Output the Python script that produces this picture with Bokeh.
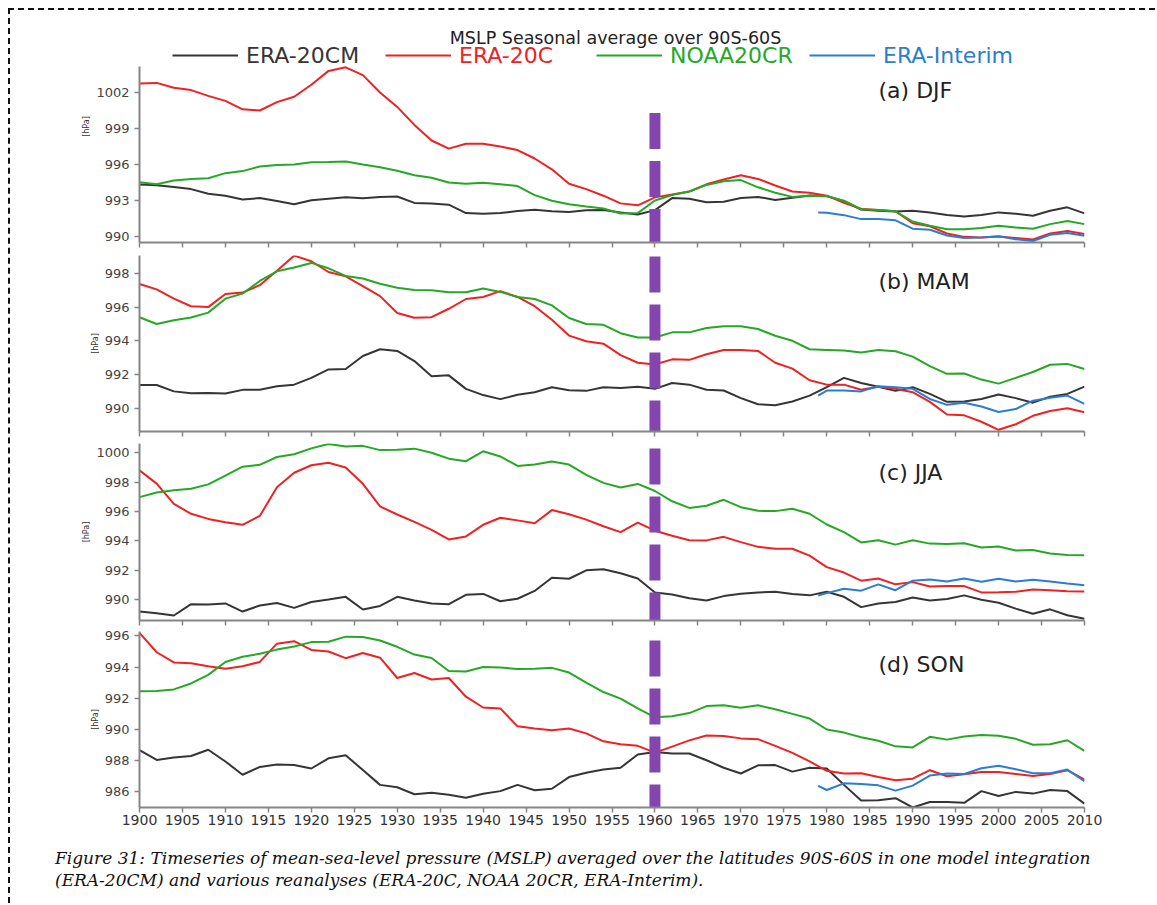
from bokeh.plotting import figure
from bokeh.layouts import column
from bokeh.models import Range1d, Legend, LegendItem, Label, FixedTicker, Div
from bokeh.embed import file_html
from bokeh.resources import INLINE

# ---------------------------------------------------------------------------
# Data: seasonal-mean MSLP (hPa) averaged over 90S-60S
# ---------------------------------------------------------------------------
YEARS = list(range(1900, 2011, 2))
INTERIM_YEARS = [1979] + list(range(1980, 2011, 2))
YEAR_TICKS = list(range(1900, 2011, 5))
SPLIT_YEAR = 1960

DJF_ERA20CM = [994.33, 994.28, 994.12, 993.95, 993.56, 993.4, 993.08, 993.2, 992.95, 992.68,
               993.02, 993.15, 993.27, 993.18, 993.3, 993.33, 992.8, 992.76, 992.65, 991.95,
               991.9, 991.95, 992.12, 992.22, 992.1, 992.05, 992.18, 992.2, 992.0, 991.83,
               992.2, 993.2, 993.15, 992.85, 992.9, 993.2, 993.3, 993.05, 993.22, 993.42,
               993.38, 992.95, 992.25, 992.15, 992.09, 992.15, 992.0, 991.79, 991.67, 991.8,
               992.01, 991.9, 991.73, 992.15, 992.43, 991.93]
DJF_ERA20C = [1002.75, 1002.8, 1002.4, 1002.2, 1001.72, 1001.3, 1000.6, 1000.5, 1001.2, 1001.65,
              1002.65, 1003.8, 1004.1, 1003.45, 1002.0, 1000.8, 999.3, 998.0, 997.32, 997.73,
              997.72, 997.5, 997.2, 996.5, 995.6, 994.4, 993.95, 993.4, 992.76, 992.6,
              993.26, 993.5, 993.75, 994.35, 994.75, 995.1, 994.8, 994.25, 993.75, 993.65,
              993.4, 992.8, 992.3, 992.2, 992.1, 991.1, 990.85, 990.25, 989.97, 989.92,
              990.0, 989.88, 989.75, 990.25, 990.45, 990.2]
DJF_NOAA20CR = [994.52, 994.35, 994.66, 994.8, 994.85, 995.28, 995.45, 995.83, 995.95, 996.0,
                996.18, 996.2, 996.25, 996.0, 995.77, 995.48, 995.1, 994.9, 994.5, 994.4,
                994.47, 994.36, 994.2, 993.45, 992.98, 992.68, 992.5, 992.33, 991.92, 991.95,
                993.0, 993.45, 993.75, 994.3, 994.61, 994.7, 994.1, 993.65, 993.3, 993.4,
                993.35, 992.98, 992.28, 992.2, 992.1, 991.25, 990.9, 990.6, 990.61, 990.7,
                990.9, 990.75, 990.65, 991.03, 991.3, 991.03]
DJF_INTERIM = [992.01, 991.97, 991.78, 991.45, 991.45, 991.35, 990.65, 990.56, 990.08,
               989.88, 989.92, 990.02, 989.78, 989.62, 990.15, 990.3, 990.06]

MAM_ERA20CM = [991.38, 991.38, 991.0, 990.89, 990.9, 990.88, 991.09, 991.1, 991.3, 991.4,
               991.8, 992.3, 992.33, 993.1, 993.5, 993.4, 992.8, 991.9, 991.95, 991.15,
               990.78, 990.54, 990.8, 990.95, 991.24, 991.07, 991.03, 991.25, 991.2, 991.28,
               991.15, 991.5, 991.4, 991.1, 991.05, 990.6, 990.24, 990.18, 990.4, 990.75,
               991.25, 991.8, 991.5, 991.27, 991.03, 991.25, 990.85, 990.38, 990.4, 990.55,
               990.82, 990.6, 990.33, 990.68, 990.85, 991.28]
MAM_ERA20C = [997.37, 997.05, 996.5, 996.05, 996.0, 996.78, 996.86, 997.3, 998.16, 999.05,
              998.72, 998.08, 997.82, 997.25, 996.65, 995.65, 995.37, 995.4, 995.9, 996.48,
              996.6, 996.95, 996.6, 996.05, 995.25, 994.31, 993.97, 993.83, 993.15, 992.7,
              992.59, 992.9, 992.87, 993.2, 993.46, 993.46, 993.4, 992.7, 992.35, 991.66,
              991.4, 991.4, 991.1, 991.27, 991.15, 990.95, 990.38, 989.63, 989.58, 989.2,
              988.72, 989.05, 989.55, 989.84, 990.0, 989.76]
MAM_NOAA20CR = [995.4, 995.0, 995.22, 995.38, 995.67, 996.5, 996.8, 997.55, 998.12, 998.35,
                998.62, 998.3, 997.85, 997.7, 997.38, 997.15, 997.02, 997.0, 996.88, 996.88,
                997.1, 996.9, 996.6, 996.48, 996.1, 995.35, 995.0, 994.95, 994.45, 994.2,
                994.2, 994.5, 994.5, 994.76, 994.86, 994.86, 994.7, 994.3, 994.0, 993.5,
                993.46, 993.42, 993.3, 993.45, 993.38, 993.06, 992.5, 992.04, 992.06, 991.7,
                991.46, 991.8, 992.15, 992.58, 992.63, 992.33]
MAM_INTERIM = [990.75, 991.05, 991.05, 991.0, 991.3, 991.25, 991.15, 990.55, 990.2,
               990.32, 990.1, 989.78, 989.95, 990.45, 990.62, 990.75, 990.26]

JJA_ERA20CM = [989.21, 989.08, 988.93, 989.7, 989.68, 989.75, 989.2, 989.61, 989.78, 989.45,
               989.85, 990.02, 990.2, 989.34, 989.58, 990.2, 989.95, 989.75, 989.7, 990.34,
               990.4, 989.9, 990.07, 990.6, 991.5, 991.43, 992.0, 992.08, 991.8, 991.45,
               990.5, 990.36, 990.1, 989.95, 990.25, 990.41, 990.5, 990.55, 990.4, 990.3,
               990.55, 990.2, 989.5, 989.75, 989.85, 990.15, 989.95, 990.05, 990.3, 990.0,
               989.8, 989.4, 989.05, 989.35, 988.95, 988.71]
JJA_ERA20C = [998.8, 997.9, 996.53, 995.85, 995.5, 995.28, 995.1, 995.7, 997.66, 998.64,
              999.15, 999.32, 999.0, 997.89, 996.35, 995.8, 995.3, 994.75, 994.1, 994.31,
              995.1, 995.58, 995.4, 995.2, 996.1, 995.82, 995.45, 995.0, 994.6, 995.25,
              994.7, 994.35, 994.05, 994.04, 994.28, 993.92, 993.6, 993.47, 993.47, 993.0,
              992.22, 991.85, 991.3, 991.45, 991.05, 991.2, 990.9, 990.93, 990.93, 990.5,
              990.52, 990.55, 990.7, 990.65, 990.58, 990.57]
JJA_NOAA20CR = [996.98, 997.3, 997.45, 997.55, 997.85, 998.45, 999.05, 999.18, 999.71, 999.9,
                1000.3, 1000.6, 1000.43, 1000.47, 1000.18, 1000.2, 1000.28, 1000.0, 999.6, 999.43,
                1000.1, 999.75, 999.1, 999.2, 999.4, 999.2, 998.5, 997.95, 997.64, 997.88,
                997.4, 996.7, 996.25, 996.4, 996.8, 996.3, 996.05, 996.03, 996.19, 995.85,
                995.12, 994.6, 993.9, 994.05, 993.75, 994.05, 993.82, 993.8, 993.85, 993.55,
                993.62, 993.35, 993.38, 993.15, 993.05, 993.02]
JJA_INTERIM = [990.29, 990.45, 990.75, 990.62, 991.05, 990.65, 991.3, 991.38, 991.25,
               991.45, 991.22, 991.43, 991.24, 991.36, 991.25, 991.1, 990.98]

SON_ERA20CM = [988.67, 988.05, 988.2, 988.3, 988.7, 987.95, 987.1, 987.6, 987.76, 987.73,
               987.5, 988.15, 988.35, 987.4, 986.45, 986.3, 985.85, 985.95, 985.82, 985.63,
               985.88, 986.05, 986.45, 986.11, 986.2, 986.95, 987.23, 987.43, 987.55, 988.4,
               988.55, 988.46, 988.46, 988.03, 987.55, 987.18, 987.7, 987.72, 987.3, 987.55,
               987.5, 986.45, 985.45, 985.47, 985.6, 985.0, 985.35, 985.35, 985.3, 986.05,
               985.74, 986.0, 985.89, 986.12, 986.05, 985.25]
SON_ERA20C = [996.19, 994.95, 994.3, 994.25, 994.05, 993.9, 994.05, 994.33, 995.5, 995.66,
              995.1, 995.0, 994.57, 994.9, 994.6, 993.3, 993.62, 993.2, 993.3, 992.1,
              991.41, 991.35, 990.2, 990.06, 989.95, 990.06, 989.75, 989.24, 989.05, 988.95,
              988.52, 988.9, 989.3, 989.62, 989.58, 989.43, 989.38, 988.95, 988.5, 987.95,
              987.35, 987.18, 987.2, 986.95, 986.75, 986.85, 987.39, 987.0, 987.13, 987.28,
              987.28, 987.15, 987.02, 987.15, 987.39, 986.79]
SON_NOAA20CR = [992.45, 992.47, 992.57, 992.95, 993.5, 994.33, 994.66, 994.85, 995.12, 995.32,
                995.6, 995.62, 995.95, 995.93, 995.7, 995.3, 994.8, 994.58, 993.75, 993.72,
                994.01, 993.97, 993.88, 993.9, 993.95, 993.65, 993.0, 992.4, 991.98, 991.35,
                990.78, 990.85, 991.05, 991.5, 991.56, 991.4, 991.55, 991.3, 991.0, 990.7,
                990.0, 989.8, 989.5, 989.28, 988.92, 988.85, 989.53, 989.35, 989.55, 989.65,
                989.6, 989.4, 989.02, 989.05, 989.31, 988.63]
SON_INTERIM = [986.38, 986.12, 986.55, 986.5, 986.42, 986.08, 986.4, 987.05, 987.18,
               987.15, 987.52, 987.67, 987.45, 987.2, 987.2, 987.43, 986.68]

SERIES_NAMES = ["ERA-20CM", "ERA-20C", "NOAA20CR", "ERA-Interim"]
SERIES_COLORS = ["#353535", "#ee2222", "#25a825", "#2a7dd0"]

TITLE = "MSLP Seasonal average over 90S-60S"
CAPTION = ["Figure 31: Timeseries of mean-sea-level pressure (MSLP) averaged over the "
           "latitudes 90S-60S in one model integration",
           "(ERA-20CM) and various reanalyses (ERA-20C, NOAA 20CR, ERA-Interim)."]

PANELS = [
    dict(label="(a) DJF", data=[DJF_ERA20CM, DJF_ERA20C, DJF_NOAA20CR, DJF_INTERIM],
         yr=(989.5, 1004.167), ticks=[990, 993, 996, 999, 1002]),
    dict(label="(b) MAM", data=[MAM_ERA20CM, MAM_ERA20C, MAM_NOAA20CR, MAM_INTERIM],
         yr=(988.62, 999.06), ticks=[990, 992, 994, 996, 998]),
    dict(label="(c) JJA", data=[JJA_ERA20CM, JJA_ERA20C, JJA_NOAA20CR, JJA_INTERIM],
         yr=(988.59, 1000.63), ticks=[990, 992, 994, 996, 998, 1000]),
    dict(label="(d) SON", data=[SON_ERA20CM, SON_ERA20C, SON_NOAA20CR, SON_INTERIM],
         yr=(985.0, 996.28), ticks=[986, 988, 990, 992, 994, 996]),
]

# ---------------------------------------------------------------------------
# Page geometry (pixels)
# ---------------------------------------------------------------------------
PAGE_OFFSET = 10            # dashed page frame: 8 px margin + 2 px border
FRAME_LEFT, FRAME_RIGHT = 139, 1084
FRAME_TOPS = [66, 255, 443, 631]
FRAME_BOTTOMS = [242, 431, 620, 807]
LABEL_Y = [90, 281, 472, 664]   # season label centres
FIG_W = 1145
YEARS_AXIS_BOTTOM = 832
CANVAS_BOTTOM = 903
DASH_START = 112            # first purple dash, page y
DIVIDER_TOP = 1000.3        # hPa in the DJF panel where the divider starts
DASH = (36, 12)

FONT = "DejaVu Sans"
AXIS_GRAY = "#858585"
PURPLE = "#8446ae"


def style_axis(ax):
    ax.axis_line_color = AXIS_GRAY
    ax.axis_line_width = 2
    ax.major_tick_line_color = AXIS_GRAY
    ax.major_tick_line_width = 1.5
    ax.major_tick_in = 0
    ax.major_tick_out = 5
    ax.minor_tick_line_color = None
    ax.major_label_text_font = FONT
    ax.major_label_text_color = "#444444"


figs = []
canvas_top = PAGE_OFFSET
legend_renderers = []
for i, panel in enumerate(PANELS):
    ftop, fbot = FRAME_TOPS[i], FRAME_BOTTOMS[i]
    y0, y1 = panel["yr"]
    px_per_hpa = (fbot - ftop) / (y1 - y0)

    # the first canvas frame also holds the title and legend above the panel
    frame_top = canvas_top if i == 0 else ftop
    y_end = y1 + (ftop - frame_top) / px_per_hpa
    border_top = frame_top - canvas_top
    canvas_bottom = fbot + 6 if i < 3 else YEARS_AXIS_BOTTOM
    border_bottom = canvas_bottom - fbot
    height = canvas_bottom - canvas_top

    p = figure(width=FIG_W, height=height, title=None,
               x_range=Range1d(1900, 2010), y_range=Range1d(y0, y_end),
               output_backend="svg", toolbar_location=None,
               min_border_left=FRAME_LEFT - PAGE_OFFSET,
               min_border_right=FIG_W - (FRAME_RIGHT - PAGE_OFFSET),
               min_border_top=border_top, min_border_bottom=border_bottom)
    p.outline_line_color = None
    p.grid.visible = False
    p.background_fill_color = "white"
    p.border_fill_color = "white"

    # axes
    style_axis(p.xaxis[0])
    style_axis(p.yaxis[0])
    p.yaxis.ticker = FixedTicker(ticks=panel["ticks"])
    p.yaxis.bounds = (y0, y1)
    p.yaxis.major_label_text_font_size = "13px"
    p.yaxis.major_label_standoff = 5
    p.yaxis.axis_label = "[hPa]"
    p.yaxis.axis_label_text_font = FONT
    p.yaxis.axis_label_text_font_size = "8px"
    p.yaxis.axis_label_text_font_style = "normal"
    p.yaxis.axis_label_text_color = "#333333"
    p.yaxis.axis_label_standoff = 2
    if i < 3:
        # unlabelled year ticks between the panels
        p.xaxis.ticker = FixedTicker(ticks=[], minor_ticks=YEAR_TICKS)
        p.xaxis.minor_tick_line_color = AXIS_GRAY
        p.xaxis.minor_tick_line_width = 1.5
        p.xaxis.minor_tick_in = 0
        p.xaxis.minor_tick_out = 5
        p.xaxis.major_label_standoff = 0
    else:
        p.xaxis.ticker = FixedTicker(ticks=YEAR_TICKS)
        p.xaxis.major_label_text_font_size = "14px"
        p.xaxis.major_label_standoff = 2
        p.xaxis.major_label_text_color = "#333333"

    # series
    rends = []
    for k, values in enumerate(panel["data"]):
        xs = INTERIM_YEARS if k == 3 else YEARS
        rends.append(p.line(xs, values, line_color=SERIES_COLORS[k], line_width=2))
    if i == 0:
        legend_renderers = rends

    # 1960 divider, dash pattern continuous across the panels
    seg_top = DIVIDER_TOP if i == 0 else y1
    start_px = DASH_START if i == 0 else ftop
    offset = (start_px - DASH_START) % (DASH[0] + DASH[1])
    p.segment(x0=[SPLIT_YEAR], y0=[seg_top], x1=[SPLIT_YEAR], y1=[y0],
              line_color=PURPLE, line_width=11, line_dash=f"{DASH[0]} {DASH[1]}",
              line_dash_offset=offset)

    # season label
    p.add_layout(Label(x=878 - FRAME_LEFT, y=fbot - LABEL_Y[i],
                       x_units="screen", y_units="screen", text=panel["label"],
                       text_font=FONT, text_font_size="22px", text_color="#222222",
                       text_baseline="middle"))

    figs.append(p)
    canvas_top = canvas_bottom

# title and legend above the first panel
pa = figs[0]
fb = FRAME_BOTTOMS[0]
pa.add_layout(Label(x=615 - FRAME_LEFT, y=fb - 37.5, x_units="screen", y_units="screen",
                    text=TITLE, text_font=FONT, text_font_size="17.5px",
                    text_color="#222222", text_align="center", text_baseline="middle"))
LEGEND_X = [172, 385, 596, 809]
for name, color, r, lx in zip(SERIES_NAMES, SERIES_COLORS, legend_renderers, LEGEND_X):
    lg = Legend(items=[LegendItem(label=name, renderers=[r])],
                location=(lx - FRAME_LEFT, fb - 54.5 - 13),
                orientation="horizontal", glyph_width=66, glyph_height=20,
                label_standoff=8, padding=0, margin=0, spacing=0,
                border_line_color=None, background_fill_alpha=0,
                label_text_font=FONT, label_text_font_size="22px",
                label_text_color=color)
    pa.add_layout(lg, "center")

# caption under the panels
caption_html = (
    '<div style="font-family:\'DejaVu Serif\';font-style:italic;font-size:17px;'
    'line-height:22px;white-space:nowrap;color:#111;padding:15px 0 0 45px;">'
    + CAPTION[0] + "<br>" + CAPTION[1] + "</div>"
)
caption = Div(text=caption_html, width=FIG_W, height=CANVAS_BOTTOM - YEARS_AXIS_BOTTOM,
              styles={"margin": "0", "padding": "0"})

layout = column(*figs, caption, spacing=0,
                styles={"margin-left": "8px", "margin-top": "8px",
                        "border-left": "2px dashed #111", "border-top": "2px dashed #111"})

open("out.html", "w").write(file_html(layout, INLINE))
